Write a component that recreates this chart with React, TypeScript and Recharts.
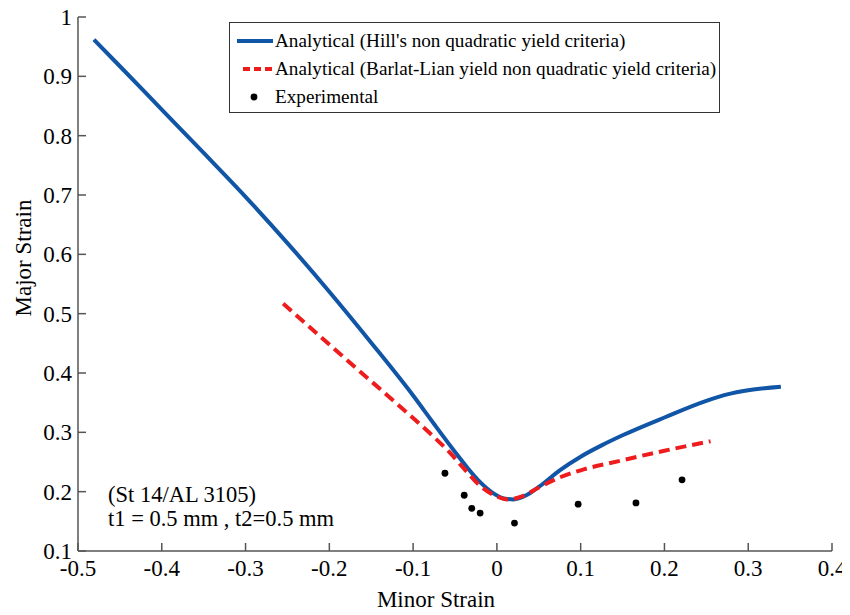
import React from 'react';
import { ComposedChart, Line, Scatter, XAxis, YAxis } from 'recharts';

const FONT = '"Liberation Serif", "Times New Roman", serif';

// Analytical (Hill's non quadratic yield criteria)
const hillMinor = [-0.481, -0.45, -0.4, -0.35, -0.3, -0.25, -0.2, -0.15, -0.1, -0.075, -0.05, -0.035, -0.02, -0.005, 0.01, 0.02, 0.035, 0.05, 0.075, 0.1, 0.125, 0.15, 0.2, 0.25, 0.275, 0.3, 0.339];
const hillMajor = [0.962, 0.917, 0.844, 0.771, 0.697, 0.619, 0.537, 0.451, 0.362, 0.314, 0.267, 0.24, 0.216, 0.198, 0.188, 0.187, 0.194, 0.208, 0.236, 0.259, 0.278, 0.295, 0.325, 0.353, 0.364, 0.371, 0.377];

// Analytical (Barlat-Lian yield non quadratic yield criteria)
const barlatMinor = [-0.255, -0.2, -0.15, -0.1, -0.075, -0.055, -0.04, -0.02, 0.0, 0.013, 0.03, 0.05, 0.075, 0.1, 0.15, 0.2, 0.255];
const barlatMajor = [0.517, 0.448, 0.386, 0.324, 0.292, 0.264, 0.24, 0.21, 0.192, 0.187, 0.192, 0.207, 0.224, 0.236, 0.253, 0.269, 0.285];

// Experimental
const expMinor = [-0.062, -0.039, -0.03, -0.02, 0.021, 0.097, 0.166, 0.221];
const expMajor = [0.231, 0.194, 0.172, 0.164, 0.147, 0.179, 0.181, 0.22];

const xTicks = [-0.5, -0.4, -0.3, -0.2, -0.1, 0, 0.1, 0.2, 0.3, 0.4];
const yTicks = [0.1, 0.2, 0.3, 0.4, 0.5, 0.6, 0.7, 0.8, 0.9, 1];

const zip = (xs: number[], ys: number[]) => xs.map((x, i) => ({ x, y: ys[i] }));

const hillData = zip(hillMinor, hillMajor);
const barlatData = zip(barlatMinor, barlatMajor);
const expData = zip(expMinor, expMajor);

const fmt = (v: number) => String(Number(v.toFixed(1)));

const BLUE = '#1155a6';
const RED = '#ee1c1c';

function Dot(props: any) {
  return <circle cx={props.cx} cy={props.cy} r={3.4} fill="#000" />;
}

export default function App() {
  const tickStyle = { fill: '#000', fontSize: 23, fontFamily: FONT };
  return (
    <div style={{ position: 'relative', width: 842, height: 607, fontFamily: FONT }}>
      <ComposedChart width={842} height={607} margin={{ top: 9, right: 18, left: 20, bottom: 34 }}>
        <XAxis
          type="number"
          dataKey="x"
          domain={[-0.5, 0.4]}
          ticks={xTicks}
          tickFormatter={fmt}
          allowDataOverflow
          height={30}
          stroke="#555"
          strokeWidth={1.5}
          tickSize={-8}
          tickMargin={17}
          tick={tickStyle}
          interval={0}
          label={{
            content: () => (
              <text x={428} y={599} textAnchor="middle" fontSize={23} fontFamily={FONT} fill="#000">
                Minor Strain
              </text>
            ),
          }}
        />
        <YAxis
          type="number"
          dataKey="y"
          domain={[0.1, 1]}
          ticks={yTicks}
          tickFormatter={fmt}
          allowDataOverflow
          width={50}
          stroke="#555"
          strokeWidth={1.5}
          tickSize={-8}
          tickMargin={14}
          tick={tickStyle}
          interval={0}
          label={{
            content: () => (
              <text x={15} y={250} transform="rotate(-90, 15, 250)" textAnchor="middle" dominantBaseline="central" fontSize={23} fontFamily={FONT} fill="#000">
                Major Strain
              </text>
            ),
          }}
        />
        <Line data={hillData} dataKey="y" type="monotone" stroke={BLUE} strokeWidth={4} dot={false} isAnimationActive={false} />
        <Line data={barlatData} dataKey="y" type="monotone" stroke={RED} strokeWidth={4} strokeDasharray="11 6" dot={false} isAnimationActive={false} />
        <Scatter data={expData} dataKey="y" fill="#000" shape={Dot} isAnimationActive={false} />
      </ComposedChart>

      <div
        style={{
          position: 'absolute',
          left: 221,
          top: 14,
          width: 491,
          height: 91,
          border: '1px solid #333',
          background: '#fff',
          fontSize: 19.2,
          lineHeight: '28px',
          paddingTop: 4,
          boxSizing: 'border-box',
        }}
      >
        {[
          { label: "Analytical (Hill's non quadratic yield criteria)", kind: 'solid' },
          { label: 'Analytical (Barlat-Lian yield non quadratic yield criteria)', kind: 'dash' },
          { label: 'Experimental', kind: 'dot' },
        ].map((r) => (
          <div key={r.label} style={{ display: 'flex', alignItems: 'center', whiteSpace: 'nowrap' }}>
            <svg width={45} height={12} style={{ flex: 'none' }}>
              {r.kind === 'solid' && <line x1={7} x2={43} y1={6} y2={6} stroke={BLUE} strokeWidth={4} />}
              {r.kind === 'dash' && <line x1={13} x2={43} y1={6} y2={6} stroke={RED} strokeWidth={4} strokeDasharray="7 4" />}
              {r.kind === 'dot' && <circle cx={24} cy={6} r={3.4} fill="#000" />}
            </svg>
            <span>{r.label}</span>
          </div>
        ))}
      </div>

      <div style={{ position: 'absolute', left: 100, top: 475, fontSize: 22.5, lineHeight: '24px', color: '#000', whiteSpace: 'nowrap' }}>
        <div>(St 14/AL 3105)</div>
        <div>t1 = 0.5 mm , t2=0.5 mm</div>
      </div>
    </div>
  );
}
